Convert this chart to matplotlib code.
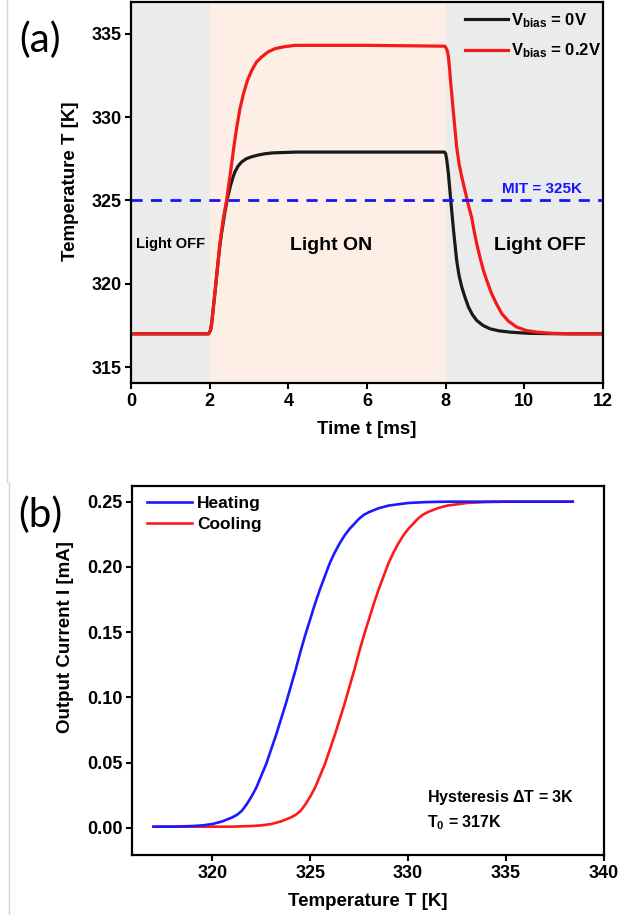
import numpy as np
import matplotlib
matplotlib.use("Agg")
import matplotlib.pyplot as plt
from matplotlib.lines import Line2D

plt.rcParams['font.family'] = ['Liberation Sans', 'DejaVu Sans']
plt.rcParams['font.weight'] = 'bold'
plt.rcParams['axes.labelweight'] = 'bold'
plt.rcParams['mathtext.fontset'] = 'custom'
plt.rcParams['mathtext.rm'] = 'Liberation Sans:bold'
plt.rcParams['mathtext.bf'] = 'Liberation Sans:bold'
plt.rcParams['mathtext.it'] = 'Liberation Sans:bold'

# ---- panel (a): temperature vs time ----
t_0v = [0.0, 1.0, 1.97, 2.02, 2.05, 2.09, 2.14, 2.20, 2.26, 2.30, 2.38, 2.45, 2.52, 2.58,
        2.64, 2.72, 2.81, 2.93, 3.07, 3.23, 3.41, 3.60, 3.83, 4.2, 6.0, 7.97, 8.00,
        8.03, 8.05, 8.07, 8.10, 8.13, 8.165, 8.20, 8.24, 8.28, 8.34, 8.41, 8.49, 8.58,
        8.68, 8.79, 8.95, 9.13, 9.35, 9.64, 10.1, 11.0, 12.0]
T_0v = [317.0, 317.0, 317.0, 317.2, 317.6, 318.5, 319.6, 321.0, 322.3, 323.0, 324.2,
        325.1, 325.8, 326.3, 326.7, 327.05, 327.3, 327.5, 327.62, 327.72, 327.8, 327.85,
        327.87, 327.9, 327.9, 327.9, 327.8, 327.4, 327.0, 326.6, 325.8, 325.0, 324.1,
        323.2, 322.3, 321.4, 320.5, 319.8, 319.2, 318.6, 318.15, 317.8, 317.5, 317.3,
        317.18, 317.1, 317.03, 317.0, 317.0]

t_02v = [0.0, 1.0, 1.97, 2.02, 2.05, 2.09, 2.14, 2.20, 2.26, 2.34, 2.43, 2.50, 2.56, 2.62,
         2.69, 2.77, 2.86, 2.96, 3.07, 3.19, 3.32, 3.48, 3.66, 3.90, 4.17, 6.0, 7.98,
         8.02, 8.05, 8.07, 8.10, 8.13, 8.165, 8.20, 8.24, 8.28, 8.34, 8.41, 8.48, 8.55,
         8.60, 8.66, 8.72, 8.79, 8.87, 8.96, 9.06, 9.17, 9.29, 9.43, 9.60, 9.81, 10.05,
         10.32, 10.7, 11.2, 12.0]
T_02v = [317.0, 317.0, 317.0, 317.2, 317.6, 318.5, 319.6, 321.0, 322.4, 323.8, 325.0,
         326.2, 327.2, 328.3, 329.4, 330.5, 331.4, 332.2, 332.8, 333.3, 333.6, 333.9,
         334.1, 334.22, 334.3, 334.3, 334.25, 334.1, 333.9, 333.6, 332.9, 332.0, 331.1,
         330.2, 329.2, 328.2, 327.2, 326.4, 325.7, 325.0, 324.5, 324.0, 323.2, 322.4,
         321.6, 320.8, 320.1, 319.4, 318.8, 318.2, 317.75, 317.4, 317.2, 317.1, 317.03,
         317.0, 317.0]

# ---- panel (b): output current vs temperature ----
T_heat = [317.0, 318.0, 319.0, 319.5, 320.0, 320.5, 321.0, 321.25, 321.5, 321.75, 322.0,
          322.25, 322.5, 322.75, 323.0, 323.25, 323.5, 323.75, 324.0, 324.25, 324.5,
          324.75, 325.0, 325.25, 325.5, 325.75, 326.0, 326.25, 326.5, 326.75, 327.0,
          327.25, 327.5, 327.75, 328.0, 328.5, 329.0, 329.5, 330.0, 331.0, 332.0, 335.0,
          338.4]
I_heat = [0.001, 0.001, 0.0015, 0.002, 0.003, 0.005, 0.008, 0.010, 0.013, 0.018, 0.024,
          0.031, 0.040, 0.049, 0.060, 0.071, 0.083, 0.095, 0.108, 0.121, 0.135, 0.148,
          0.160, 0.172, 0.183, 0.193, 0.203, 0.211, 0.218, 0.224, 0.229, 0.233, 0.237,
          0.240, 0.242, 0.245, 0.247, 0.248, 0.249, 0.2497, 0.250, 0.250, 0.250]
T_cool = [317.0, 319.0, 321.0, 322.0, 322.5, 323.0, 323.5, 324.0, 324.25, 324.5, 324.75,
          325.0, 325.25, 325.5, 325.75, 326.0, 326.25, 326.5, 326.75, 327.0, 327.25,
          327.5, 327.75, 328.0, 328.25, 328.5, 328.75, 329.0, 329.25, 329.5, 329.75,
          330.0, 330.25, 330.5, 330.75, 331.0, 331.5, 332.0, 332.5, 333.0, 334.0, 335.0,
          338.4]
I_cool = [0.001, 0.001, 0.001, 0.0015, 0.002, 0.003, 0.005, 0.008, 0.010, 0.013, 0.018,
          0.024, 0.031, 0.040, 0.049, 0.060, 0.071, 0.083, 0.095, 0.108, 0.121, 0.135,
          0.148, 0.160, 0.172, 0.183, 0.193, 0.203, 0.211, 0.218, 0.224, 0.229, 0.233,
          0.237, 0.240, 0.242, 0.245, 0.247, 0.248, 0.249, 0.2497, 0.250, 0.250]

t_on, t_off = 2.0, 8.0
mit = 325.0


def style_axes(ax):
    for s in ax.spines.values():
        s.set_linewidth(1.6)
    ax.tick_params(direction='out', length=4, width=1.5, labelsize=13, pad=3)
    for lab in ax.get_xticklabels() + ax.get_yticklabels():
        lab.set_fontweight('bold')


fig = plt.figure(figsize=(6.43, 9.15), dpi=100)

# panel (a)
ax1 = fig.add_axes([131 / 643, 1 - 383 / 915, 472 / 643, 381 / 915])
ax1.set_facecolor('#ebebeb')
ax1.axvspan(t_on, t_off, color='#fdeee6', zorder=0, lw=0)
ax1.plot(t_0v, T_0v, color='#1a1a1a', lw=2.3, label=r'$\mathbf{V_{bias}}$ = 0V')
ax1.plot(t_02v, T_02v, color='#f51a1a', lw=2.3, label=r'$\mathbf{V_{bias}}$ = 0.2V')
ax1.axhline(mit, color='#1414ff', lw=2, ls=(0, (4, 3)))
ax1.set_xlim(0, 12)
ax1.set_ylim(314.05, 336.9)
ax1.set_xticks([0, 2, 4, 6, 8, 10, 12])
ax1.set_yticks([315, 320, 325, 330, 335])
ax1.set_xlabel('Time t [ms]', fontsize=13.5, labelpad=8)
ax1.set_ylabel('Temperature T [K]', fontsize=13.5)
ax1.yaxis.set_label_coords(-0.11, 0.53)
style_axes(ax1)
ax1.text(1.0, 322.4, 'Light OFF', ha='center', va='center', fontsize=10.5)
ax1.text(5.1, 322.3, 'Light ON', ha='center', va='center', fontsize=14)
ax1.text(10.4, 322.3, 'Light OFF', ha='center', va='center', fontsize=14)
ax1.text(10.45, 325.25, 'MIT = 325K', ha='center', va='bottom', fontsize=11,
         color='#1414ff')
ax1.legend(loc='upper right', bbox_to_anchor=(1.013, 0.998), frameon=False, fontsize=12,
           handlelength=2.6, handletextpad=0.15, labelspacing=0.7, borderaxespad=0.1)

# panel (b)
ax2 = fig.add_axes([132 / 643, 1 - 855 / 915, 472 / 643, 369 / 915])
ax2.plot(T_cool, I_cool, color='#ff1a1a', lw=1.9, label='Cooling')
ax2.plot(T_heat, I_heat, color='#1a1aff', lw=1.9, label='Heating')
ax2.set_xlim(315.9, 340)
ax2.set_ylim(-0.0207, 0.262)
ax2.set_xticks([320, 325, 330, 335, 340])
ax2.set_yticks([0.0, 0.05, 0.10, 0.15, 0.20, 0.25])
ax2.set_yticklabels(['0.00', '0.05', '0.10', '0.15', '0.20', '0.25'])
ax2.set_xlabel('Temperature T [K]', fontsize=13.5, labelpad=8)
ax2.set_ylabel('Output Current I [mA]', fontsize=13.5)
ax2.yaxis.set_label_coords(-0.123, 0.59)
style_axes(ax2)
handles, labels = ax2.get_legend_handles_labels()
ax2.legend(handles[::-1], labels[::-1], loc='upper left', bbox_to_anchor=(0.0, 1.012),
           frameon=False, fontsize=12.5, handlelength=2.6, handletextpad=0.3,
           labelspacing=0.3, borderaxespad=0.45)
ax2.text(0.625, 0.155, r'Hysteresis $\Delta$T = 3K', transform=ax2.transAxes,
         fontsize=11.5, va='center')
ax2.text(0.625, 0.088, r'T$_\mathbf{0}$ = 317K', transform=ax2.transAxes,
         fontsize=11.5, va='center')

# panel letters
fig.text(40 / 643, 1 - 40 / 915, '(a)', fontsize=29, fontweight='normal',
         family=['Lato', 'DejaVu Sans'], ha='center', va='center')
fig.text(40 / 643, 1 - 515 / 915, '(b)', fontsize=29, fontweight='normal',
         family=['Lato', 'DejaVu Sans'], ha='center', va='center')

# faint screenshot borders on the left
fig.add_artist(Line2D([7 / 643, 7 / 643], [1 - 482 / 915, 1.0], color='#d4d4d4', lw=1))
fig.add_artist(Line2D([9 / 643, 9 / 643], [0.0, 1 - 482 / 915], color='#d4d4d4', lw=1))

fig.savefig('out.png', dpi=100)
